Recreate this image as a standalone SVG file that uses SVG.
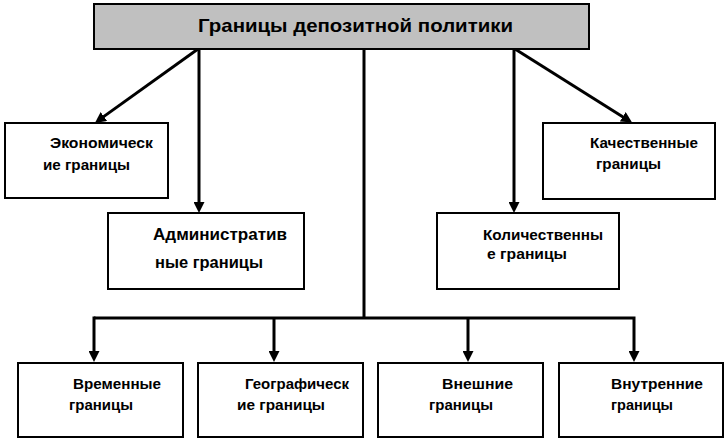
<svg xmlns="http://www.w3.org/2000/svg" width="728" height="442" viewBox="0 0 728 442">
<style>
.box{fill:#ffffff;stroke:#000000;stroke-width:2}
.title{fill:#c0c0c0;stroke:#000000;stroke-width:2}
.t{font-family:"Liberation Sans",Arial,sans-serif;font-weight:bold;font-size:15.5px;fill:#000000}
.tt{font-family:"Liberation Sans",Arial,sans-serif;font-weight:bold;font-size:19px;fill:#000000}
.c{fill:none;stroke:#000000;stroke-width:3}
</style>
<defs>
<marker id="ah" markerUnits="userSpaceOnUse" markerWidth="11" markerHeight="11" viewBox="0 0 11 11" refX="5" refY="5.5" orient="auto">
<path d="M0,0 L11,5.5 L0,11 z" fill="#000000"/>
</marker>
</defs>
<rect width="728" height="442" fill="#ffffff"/>
<g id="connectors">
<line class="c" x1="198" y1="49" x2="99.8" y2="119.4" marker-end="url(#ah)"/>
<line class="c" x1="199" y1="49" x2="199" y2="207" marker-end="url(#ah)"/>
<line class="c" x1="364" y1="49" x2="364" y2="318"/>
<line class="c" x1="514" y1="49" x2="514" y2="207" marker-end="url(#ah)"/>
<line class="c" x1="515" y1="49" x2="627" y2="119.4" marker-end="url(#ah)"/>
<polyline class="c" points="94,318 634,318 634,356" marker-end="url(#ah)"/>
<line class="c" x1="94" y1="316.5" x2="94" y2="356" marker-end="url(#ah)"/>
<line class="c" x1="274" y1="318" x2="274" y2="356" marker-end="url(#ah)"/>
<line class="c" x1="468" y1="318" x2="468" y2="356" marker-end="url(#ah)"/>
</g>
<g id="node-title">
<rect class="title" x="94" y="4" width="495" height="45"/>
<text class="tt" x="198" y="32" textLength="315" lengthAdjust="spacingAndGlyphs">Границы депозитной политики</text>
</g>
<g id="node-econ">
<rect class="box" x="5" y="123" width="163" height="75"/>
<text class="t" x="50" y="148" textLength="103" lengthAdjust="spacingAndGlyphs">Экономическ</text>
<text class="t" x="43" y="170" textLength="87" lengthAdjust="spacingAndGlyphs">ие границы</text>
</g>
<g id="node-admin">
<rect class="box" x="108" y="213" width="196" height="76"/>
<text class="t" x="153" y="240" textLength="134" lengthAdjust="spacingAndGlyphs" style="font-size:16.5px">Административ</text>
<text class="t" x="155" y="268" textLength="108" lengthAdjust="spacingAndGlyphs" style="font-size:16.5px">ные границы</text>
</g>
<g id="node-kach">
<rect class="box" x="543" y="123" width="172" height="76"/>
<text class="t" x="590" y="148" textLength="108" lengthAdjust="spacingAndGlyphs">Качественные</text>
<text class="t" x="596" y="169" textLength="65" lengthAdjust="spacingAndGlyphs">границы</text>
</g>
<g id="node-kolich">
<rect class="box" x="437" y="213" width="182" height="76"/>
<text class="t" x="483" y="240" textLength="120" lengthAdjust="spacingAndGlyphs">Количественны</text>
<text class="t" x="487" y="259" textLength="80" lengthAdjust="spacingAndGlyphs">е границы</text>
</g>
<g id="node-vrem">
<rect class="box" x="18" y="363" width="165" height="74"/>
<text class="t" x="73" y="389" textLength="88" lengthAdjust="spacingAndGlyphs">Временные</text>
<text class="t" x="69" y="410" textLength="64" lengthAdjust="spacingAndGlyphs">границы</text>
</g>
<g id="node-geo">
<rect class="box" x="198" y="363" width="165" height="74"/>
<text class="t" x="245" y="389" textLength="104" lengthAdjust="spacingAndGlyphs">Географическ</text>
<text class="t" x="237" y="410" textLength="88" lengthAdjust="spacingAndGlyphs">ие границы</text>
</g>
<g id="node-vnesh">
<rect class="box" x="378" y="363" width="165" height="74"/>
<text class="t" x="442" y="389" textLength="71" lengthAdjust="spacingAndGlyphs">Внешние</text>
<text class="t" x="429" y="410" textLength="64" lengthAdjust="spacingAndGlyphs">границы</text>
</g>
<g id="node-vnutr">
<rect class="box" x="559" y="363" width="164" height="74"/>
<text class="t" x="611" y="389" textLength="92" lengthAdjust="spacingAndGlyphs">Внутренние</text>
<text class="t" x="611" y="410" textLength="62" lengthAdjust="spacingAndGlyphs">границы</text>
</g>
</svg>
